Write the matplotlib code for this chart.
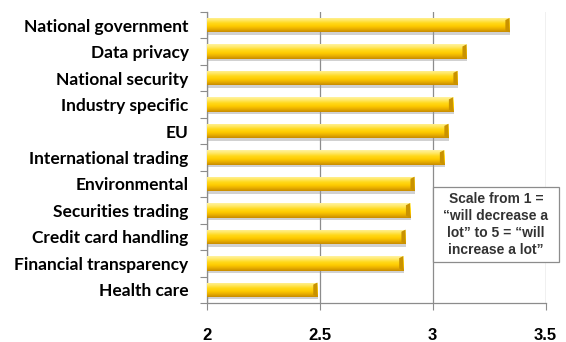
import matplotlib
matplotlib.use("Agg")
import matplotlib.pyplot as plt
import numpy as np
from matplotlib.colors import LinearSegmentedColormap
from matplotlib.patches import Rectangle, Polygon

categories = [
    "National government", "Data privacy", "National security",
    "Industry specific", "EU", "International trading", "Environmental",
    "Securities trading", "Credit card handling", "Financial transparency",
    "Health care",
]
scores = [3.34, 3.15, 3.11, 3.09, 3.07, 3.05, 2.92, 2.90, 2.88, 2.87, 2.49]
xticks = [2, 2.5, 3, 3.5]
xtick_labels = ["2", "2.5", "3", "3.5"]
note = "Scale from 1 =\n\u201cwill decrease a\nlot\u201d to 5 = \u201cwill\nincrease a lot\u201d"

fig = plt.figure(figsize=(5.66, 3.42), dpi=100)
ax = fig.add_axes([0.365, 0.114, 0.599, 0.851])

n = len(categories)
ypos = np.arange(n)[::-1]
bar_h = 0.55
xmin, xmax = 2.0, 3.5

gold = LinearSegmentedColormap.from_list(
    "gold", ["#C88C00", "#E8AE00", "#FFCC00", "#FFD91A", "#FFE866", "#FFF3A0"])
grad = np.linspace(0, 1, 64).reshape(-1, 1)

for y, v in zip(ypos, scores):
    # soft drop shadow
    ax.add_patch(Rectangle((xmin, y - bar_h / 2 - 0.09), v - xmin + 0.004, bar_h,
                           facecolor="#9a9a9a", alpha=0.45, edgecolor="none", zorder=2))
    face = Rectangle((xmin, y - bar_h / 2), v - xmin, bar_h,
                     facecolor="#FFCC00", edgecolor="none", zorder=3)
    ax.add_patch(face)
    im = ax.imshow(grad, cmap=gold, aspect="auto", origin="lower",
                   extent=(xmin, v, y - bar_h / 2, y + bar_h / 2), zorder=3.5,
                   interpolation="bilinear")
    im.set_clip_path(face)
    # bevelled right end
    d = 0.018
    ax.add_patch(Polygon([(v - d, y + bar_h / 2 - 0.08), (v, y + bar_h / 2),
                          (v, y - bar_h / 2), (v - d, y - bar_h / 2 + 0.08)],
                         closed=True, facecolor="#C99200", edgecolor="none", zorder=4))

ax.set_xlim(xmin, xmax)
ax.set_ylim(-0.5, n - 0.5)

ax.set_xticks(xticks)
ax.set_xticklabels(xtick_labels, fontsize=12, fontweight="bold",
                   family="Liberation Sans")
ax.tick_params(axis="x", length=5, width=0.8, color="#8c8c8c", pad=13)
ax.grid(axis="x", color="#8c8c8c", linewidth=0.9, zorder=0)
ax.set_axisbelow(True)

ax.set_yticks(ypos)
ax.set_yticklabels(categories, fontsize=12.5, fontweight="bold", family="Lato")
ax.set_yticks(np.arange(n + 1) - 0.5, minor=True)
ax.tick_params(axis="y", which="major", length=0, pad=13)
ax.tick_params(axis="y", which="minor", length=5, width=0.8, color="#8c8c8c")

for side in ("top", "right"):
    ax.spines[side].set_visible(False)
for side in ("left", "bottom"):
    ax.spines[side].set_color("#8c8c8c")
    ax.spines[side].set_linewidth(0.9)

# note box, placed in figure coordinates
fig.patches.append(Rectangle((0.765, 0.234), 0.2226, 0.219, transform=fig.transFigure,
                             facecolor="white", edgecolor="#8c8c8c", linewidth=0.9,
                             zorder=5))
fig.text(0.876, 0.3436, note, ha="center", va="center",
         fontsize=10, fontweight="bold", family="Liberation Sans", color="#333333",
         linespacing=1.26, zorder=6)

fig.savefig("out.png", dpi=100)
